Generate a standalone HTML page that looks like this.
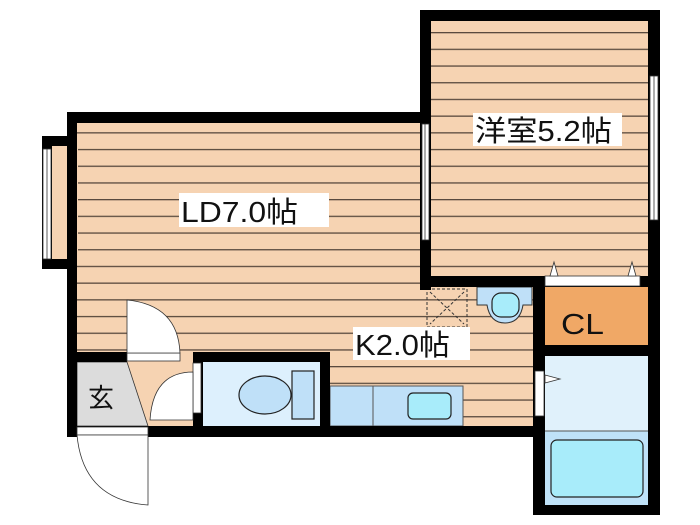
<!DOCTYPE html>
<html><head><meta charset="utf-8"><style>
html,body{margin:0;padding:0;background:#fff;width:700px;height:525px;overflow:hidden}
text{font-family:"Liberation Sans","Noto Sans CJK JP",sans-serif;fill:#111}
</style></head><body>
<svg width="700" height="525" viewBox="0 0 700 525" xmlns="http://www.w3.org/2000/svg">
<defs>
<pattern id="fl" patternUnits="userSpaceOnUse" x="0" y="32" width="700" height="16.7">
<rect width="700" height="16.7" fill="#f6d3b2"/>
<rect y="0" width="700" height="1.3" fill="#5a4a3e"/>
</pattern>
</defs>
<rect x="431" y="21" width="217" height="256" fill="url(#fl)"/>
<rect x="77" y="122" width="456" height="304" fill="url(#fl)"/>
<rect x="52" y="145" width="26" height="115" fill="#f6d3b2"/>
<rect x="545" y="287" width="103" height="58" fill="#f0a866"/>
<rect x="545" y="356" width="103" height="75" fill="#e0f1fb"/>
<rect x="545" y="431" width="103" height="74" fill="#bfe2f8"/>
<rect x="551" y="440" width="92" height="57" rx="6" fill="#a8ecfa" stroke="#222" stroke-width="1.2"/>
<line x1="545" y1="431" x2="648" y2="431" stroke="#555" stroke-width="1"/>
<rect x="77" y="362" width="116" height="64" fill="#f6d3b2"/>
<polygon points="77,362 127,362 148,426 77,426" fill="#dcdcdc" stroke="#333" stroke-width="0.8"/>
<rect x="203" y="362" width="117" height="64" fill="#ddf0fd"/>
<ellipse cx="265" cy="395" rx="26" ry="19" fill="#bfe0f8" stroke="#222" stroke-width="1.2"/>
<rect x="292" y="371" width="22" height="48" fill="#bfe0f8" stroke="#222" stroke-width="1.2"/>
<rect x="330" y="386" width="133" height="40" fill="#bfe0f8" stroke="#555" stroke-width="1"/>
<line x1="373" y1="386" x2="373" y2="426" stroke="#555"/>
<rect x="408" y="393" width="43" height="26" rx="5" fill="#a8ecfa" stroke="#222" stroke-width="1.2"/>
<path d="M477,287 H532 V305 H523 Q520,323 505,323 Q490,323 487,305 H477 Z" fill="#bfe0f8" stroke="#333" stroke-width="1"/>
<rect x="492" y="293" width="27" height="24" rx="9" fill="#a8ecfa" stroke="#222" stroke-width="1.2"/>
<rect x="427" y="289" width="40" height="38" fill="none" stroke="#333" stroke-dasharray="3,2"/>
<line x1="430" y1="292" x2="464" y2="324" stroke="#333" stroke-dasharray="3,2"/>
<line x1="464" y1="292" x2="430" y2="324" stroke="#333" stroke-dasharray="3,2"/>
<g fill="#000">
<rect x="420" y="10" width="240" height="11"/>
<rect x="648" y="10" width="12" height="505"/>
<rect x="420" y="10" width="11" height="280"/>
<rect x="420" y="276" width="240" height="11"/>
<rect x="67" y="112" width="364" height="11"/>
<rect x="67" y="112" width="10" height="325"/>
<rect x="42" y="136" width="35" height="10"/>
<rect x="42" y="259" width="35" height="10"/>
<rect x="42" y="136" width="10" height="133"/>
<rect x="533" y="276" width="12" height="239"/>
<rect x="533" y="345" width="127" height="11"/>
<rect x="533" y="505" width="127" height="10"/>
<rect x="67" y="426" width="478" height="11"/>
<rect x="193" y="352" width="137" height="10"/>
<rect x="320" y="352" width="10" height="85"/>
<rect x="193" y="352" width="10" height="85"/>
<rect x="67" y="352" width="60" height="10"/>
</g>
<g fill="#fff" stroke="#333" stroke-width="0.8">
<rect x="43" y="149" width="8" height="110"/>
<rect x="422" y="124" width="7" height="116"/>
<rect x="650" y="76" width="8" height="144"/>
</g>
<g stroke="#333" stroke-width="0.8">
<line x1="47" y1="149" x2="47" y2="259"/>
<line x1="425" y1="124" x2="425" y2="240"/>
<line x1="654" y1="76" x2="654" y2="220"/>
</g>
<g fill="#fff" stroke="#333" stroke-width="0.8">
<rect x="127" y="353" width="53" height="8"/>
<path d="M127,300 Q178,305 180,353 H127 Z"/>
<rect x="193" y="363" width="8" height="50"/>
<path d="M193,372 Q153,372 150,420 H193 Z"/>
<rect x="77" y="427" width="71" height="8"/>
<path d="M148,435 V505 Q83,500 77,435 Z"/>
<rect x="545" y="276" width="95" height="10"/>
<polygon points="550,276 554,262 558,276"/>
<polygon points="628,276 632,262 636,276"/>
<rect x="535" y="371" width="9" height="45"/>
<polygon points="545,375 560,379 545,383"/>
</g>
<rect x="473" y="113" width="149" height="33" fill="#fff"/>
<text x="475" y="141" font-size="29" textLength="137" lengthAdjust="spacingAndGlyphs">洋室5.2帖</text>
<rect x="179" y="193" width="150" height="34" fill="#fff"/>
<text x="181" y="222" font-size="29" textLength="117" lengthAdjust="spacingAndGlyphs">LD7.0帖</text>
<rect x="353" y="327" width="117" height="33" fill="#fff"/>
<text x="355" y="355" font-size="29" textLength="95" lengthAdjust="spacingAndGlyphs">K2.0帖</text>
<text x="561" y="334" font-size="29" textLength="43" lengthAdjust="spacingAndGlyphs">CL</text>
<text x="88" y="407" font-size="26">玄</text>
</svg>
</body></html>
